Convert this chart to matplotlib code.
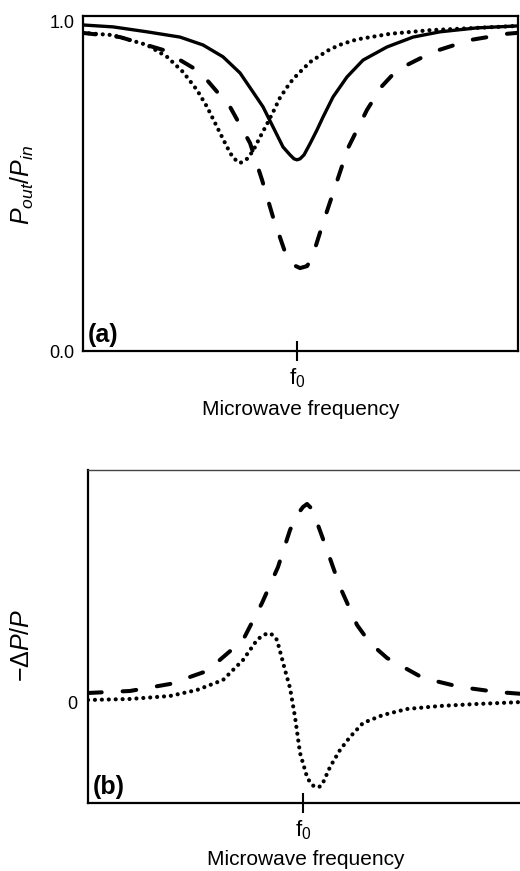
import matplotlib
matplotlib.use('Agg')
import matplotlib.pyplot as plt

plt.rcParams.update({
    'font.family': ['Liberation Sans', 'DejaVu Sans'],
    'mathtext.fontset': 'custom',
    'mathtext.rm': 'Liberation Sans',
    'mathtext.it': 'Liberation Sans:italic',
    'mathtext.bf': 'Liberation Sans:bold',
    'font.size': 12,
})

# ---------------------------------------------------------------------------
# (a) transmitted power (x: offset from f0, arb. units)
# ---------------------------------------------------------------------------
a_solid_x = [-2.15, -1.84, -1.50, -1.17, -0.94, -0.74, -0.57, -0.44, -0.34, -0.24,
             -0.14, -0.07, -0.03, 0.00, 0.03, 0.07, 0.13, 0.20, 0.26, 0.36,
             0.50, 0.66, 0.90, 1.16, 1.43, 1.80, 2.21]
a_solid_y = [0.991, 0.985, 0.970, 0.954, 0.930, 0.894, 0.845, 0.787, 0.742, 0.681,
             0.620, 0.596, 0.584, 0.581, 0.584, 0.596, 0.630, 0.672, 0.711, 0.772,
             0.833, 0.884, 0.924, 0.954, 0.970, 0.982, 0.988]

a_dash_x = [-2.15, -1.77, -1.34, -0.97, -0.67, -0.47, -0.35, -0.24, -0.11, -0.04,
            0.03, 0.10, 0.15, 0.26, 0.38, 0.51, 0.70, 0.85, 1.00, 1.36, 1.73,
            2.10, 2.21]
a_dash_y = [0.967, 0.954, 0.915, 0.848, 0.742, 0.632, 0.520, 0.407, 0.292, 0.262,
            0.252, 0.258, 0.283, 0.389, 0.498, 0.617, 0.733, 0.805, 0.854, 0.909,
            0.945, 0.964, 0.967]

a_dot_x = [-2.15, -1.84, -1.50, -1.30, -1.14, -1.00, -0.90, -0.80, -0.70, -0.64,
           -0.57, -0.50, -0.44, -0.37, -0.30, -0.23, -0.17, -0.07, 0.00, 0.07,
           0.13, 0.23, 0.33, 0.45, 0.60, 0.93, 1.33, 1.80, 2.21]
a_dot_y = [0.967, 0.960, 0.930, 0.894, 0.848, 0.793, 0.742, 0.681, 0.620, 0.587,
           0.571, 0.584, 0.608, 0.650, 0.690, 0.732, 0.770, 0.815, 0.839, 0.860,
           0.878, 0.898, 0.917, 0.933, 0.947, 0.964, 0.975, 0.982, 0.988]

# ---------------------------------------------------------------------------
# (b) power change signal
# ---------------------------------------------------------------------------
b_dash_x = [-2.15, -1.73, -1.33, -0.96, -0.60, -0.41, -0.25, -0.13, -0.06, 0.00,
            0.04, 0.08, 0.12, 0.24, 0.37, 0.54, 0.67, 0.84, 1.20, 1.57, 1.94, 2.20]
b_dash_y = [0.10, 0.12, 0.19, 0.32, 0.63, 1.00, 1.36, 1.73, 1.88, 1.96,
            1.99, 1.95, 1.86, 1.53, 1.16, 0.78, 0.60, 0.45, 0.25, 0.16, 0.11, 0.09]

b_dot_x = [-2.15, -1.73, -1.33, -1.06, -0.80, -0.60, -0.46, -0.41, -0.35, -0.30,
           -0.26, -0.18, -0.13, -0.08, -0.03, 0.04, 0.08, 0.12, 0.16, 0.19,
           0.27, 0.37, 0.47, 0.60, 0.80, 1.04, 1.37, 1.74, 2.20]
b_dot_y = [0.03, 0.04, 0.07, 0.13, 0.23, 0.43, 0.63, 0.67, 0.70, 0.68,
           0.63, 0.33, 0.15, -0.14, -0.50, -0.74, -0.81, -0.84, -0.84, -0.82,
           -0.64, -0.47, -0.34, -0.20, -0.12, -0.06, -0.03, -0.01, 0.01]

SOLID = dict(color='black', lw=2.4, solid_capstyle='round', solid_joinstyle='round')
DASH = dict(color='black', lw=2.9, linestyle=(0, (3.4, 5.2)), dash_capstyle='round')
DOT = dict(color='black', lw=3.0, linestyle=(0, (0.01, 1.65)), dash_capstyle='round')

fig = plt.figure(figsize=(5.2, 8.71), dpi=100)

# ---- panel (a)
ax = fig.add_axes([0.1587, 0.597, 0.8375, 0.3846])
ax.plot(a_solid_x, a_solid_y, **SOLID)
ax.plot(a_dash_x, a_dash_y, **DASH)
ax.plot(a_dot_x, a_dot_y, **DOT)
ax.set_xlim(-2.145, 2.21)
ax.set_ylim(0, 1.018)
ax.set_yticks([0.0, 1.0])
ax.set_yticklabels(['0.0', '1.0'], fontsize=13)
ax.tick_params(axis='y', length=0, pad=6)
ax.set_xticks([0])
ax.set_xticklabels([r'f$_0$'], fontsize=16)
ax.tick_params(axis='x', direction='inout', length=14, width=1.5, pad=4)
ax.set_xlabel('Microwave frequency', fontsize=15, labelpad=7)
for s in ax.spines.values():
    s.set_linewidth(1.6)
ax.text(0.013, 0.012, '(a)', transform=ax.transAxes, fontsize=18,
        fontweight='bold', ha='left', va='bottom')
fig.text(22 / 520, 1 - 185 / 871, r'$P_{out}/P_{in}$', rotation=90,
         ha='center', va='center', fontsize=18)

# ---- panel (b)
bx = fig.add_axes([0.1683, 0.0781, 0.8375, 0.3823])
bx.plot(b_dash_x, b_dash_y, **DASH)
bx.plot(b_dot_x, b_dot_y, **DOT)
bx.set_xlim(-2.155, 2.20)
bx.set_ylim(-1.0, 2.33)
bx.set_yticks([0])
bx.set_yticklabels(['0'], fontsize=13)
bx.tick_params(axis='y', length=0, pad=7)
bx.set_xticks([0])
bx.set_xticklabels([r'f$_0$'], fontsize=16)
bx.tick_params(axis='x', direction='inout', length=14, width=1.5, pad=4)
bx.set_xlabel('Microwave frequency', fontsize=15, labelpad=6)
for s in bx.spines.values():
    s.set_linewidth(1.6)
bx.spines['top'].set_linewidth(1.0)
bx.spines['top'].set_color('#444444')
bx.text(0.013, 0.012, '(b)', transform=bx.transAxes, fontsize=18,
        fontweight='bold', ha='left', va='bottom')
fig.text(22 / 520, 1 - 645 / 871, r'$-\Delta P/P$', rotation=90,
         ha='center', va='center', fontsize=18)

fig.savefig('out.png', dpi=100)
